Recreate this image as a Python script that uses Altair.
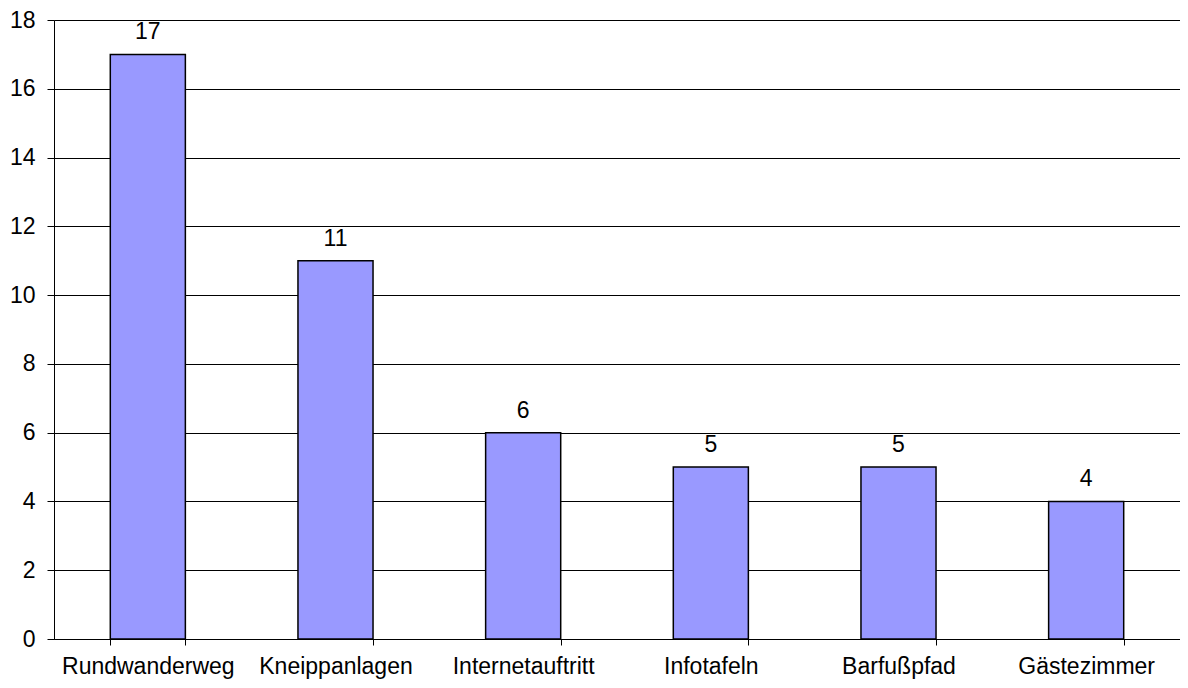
import altair as alt
import pandas as pd

categories = ["Rundwanderweg", "Kneippanlagen", "Internetauftritt", "Infotafeln", "Barfußpfad", "Gästezimmer"]
values = [17, 11, 6, 5, 5, 4]

df = pd.DataFrame({"cat": categories, "val": values})

FS = 23

x = alt.X("cat:N", sort=categories, title=None,
          scale=alt.Scale(paddingInner=0.6, paddingOuter=0.3),
          axis=alt.Axis(labelAngle=0, labelFont="Liberation Sans", labelFontSize=FS,
                        labelColor="black", labelPadding=10, tickBand="extent",
                        tickColor="black", tickSize=6, domainColor="black",
                        domainWidth=1, grid=False))
y = alt.Y("val:Q", title=None,
          scale=alt.Scale(domain=[0, 18], nice=False),
          axis=alt.Axis(values=list(range(0, 19, 2)), labelFont="Liberation Sans",
                        labelFontSize=FS, labelColor="black", labelPadding=12,
                        tickColor="black", tickSize=7, domainColor="black",
                        gridColor="black", gridWidth=1, gridOpacity=1))

bars = alt.Chart(df).mark_bar(color="#9999FF", stroke="black", strokeWidth=1.5).encode(x=x, y=y)
labels = alt.Chart(df).mark_text(dy=-15, font="Liberation Sans", fontSize=FS, color="black",
                                 baseline="alphabetic").encode(
    x=alt.X("cat:N", sort=categories), y="val:Q", text="val:Q")

chart = alt.layer(bars, labels).properties(
    width=1126, height=619,
    autosize=alt.AutoSizeParams(type="none"),
    padding={"left": 46, "top": 12, "right": 0, "bottom": 41},
).configure_view(stroke="#999999", strokeWidth=1).configure(background="white")

chart.save("out.html", embed_options={"renderer": "svg", "actions": False})
